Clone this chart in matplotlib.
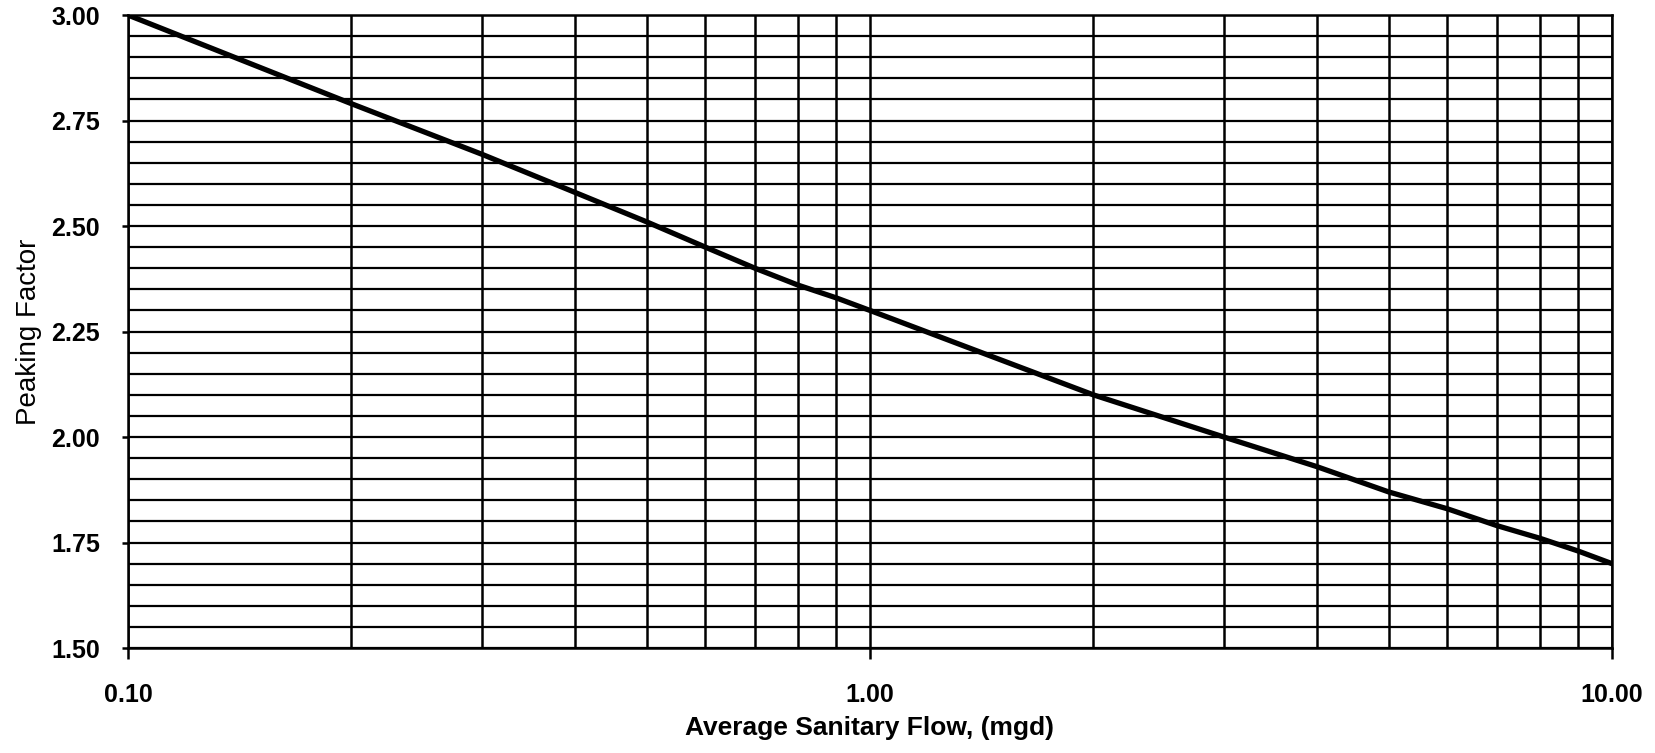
import numpy as np
import matplotlib
matplotlib.use('Agg')
import matplotlib.pyplot as plt
import matplotlib.patheffects as pe
from matplotlib.ticker import FixedLocator, MultipleLocator, NullFormatter, FuncFormatter, LogLocator

plt.rcParams['font.family'] = ['Liberation Sans', 'DejaVu Sans']

# peaking factor curve
flow = [0.1, 0.2, 0.3, 0.4, 0.5, 0.6, 0.7, 0.8, 0.9, 1.0,
        2.0, 3.0, 4.0, 5.0, 6.0, 7.0, 8.0, 9.0, 10.0]
peaking = [3.00, 2.79, 2.67, 2.58, 2.51, 2.45, 2.40, 2.36, 2.33, 2.30,
           2.10, 2.00, 1.93, 1.87, 1.83, 1.79, 1.76, 1.73, 1.70]

x_ticks = [0.1, 1.0, 10.0]
y_ticks = [1.50, 1.75, 2.00, 2.25, 2.50, 2.75, 3.00]

fig = plt.figure(figsize=(16.56, 7.53), dpi=100)
ax = fig.add_axes([0.0773, 0.1394, 0.8961, 0.8406])

ax.set_xscale('log')
ax.set_xlim(0.1, 10)
ax.set_ylim(1.5, 3.0)

ax.xaxis.set_major_locator(FixedLocator(x_ticks))
ax.xaxis.set_minor_locator(LogLocator(base=10, subs=np.arange(2, 10)))
ax.xaxis.set_major_formatter(FuncFormatter(lambda v, p: '%.2f' % v))
ax.xaxis.set_minor_formatter(NullFormatter())
ax.yaxis.set_major_locator(FixedLocator(y_ticks))
ax.yaxis.set_minor_locator(MultipleLocator(0.05))
ax.yaxis.set_major_formatter(FuncFormatter(lambda v, p: '%.2f' % v))

ax.set_axisbelow(True)
ax.grid(axis='y', which='both', color='black', lw=1.6)
ax.grid(axis='x', which='both', color='black', lw=1.8)

ax.plot(flow, peaking, color='black', lw=3.8, zorder=5, solid_capstyle='round')

for s in ax.spines.values():
    s.set_linewidth(1.8)
    s.set_zorder(4)

ax.tick_params(axis='x', which='major', direction='out', length=8, width=1.8,
               pad=17, labelsize=18)
ax.tick_params(axis='y', which='major', direction='out', length=4, width=1.8,
               pad=16, labelsize=18)
ax.tick_params(which='minor', length=0)
for lab in ax.get_xticklabels() + ax.get_yticklabels():
    lab.set_fontweight('bold')

ax.set_xlabel('Average Sanitary Flow, (mgd)', fontsize=19, fontweight='bold')
ax.xaxis.set_label_coords(0.5, -0.107)
ax.set_ylabel('Peaking Factor', fontsize=20)
ax.yaxis.set_label_coords(-0.058, 0.5)

# vertical lines cut small gaps into the horizontal ones, as on the scan
fig.canvas.draw()
halo = [pe.Stroke(linewidth=6, foreground='white'), pe.Normal()]
for t in ax.xaxis.get_major_ticks() + ax.xaxis.get_minor_ticks():
    t.gridline.set_path_effects(halo)

fig.savefig('out.png', dpi=100)
